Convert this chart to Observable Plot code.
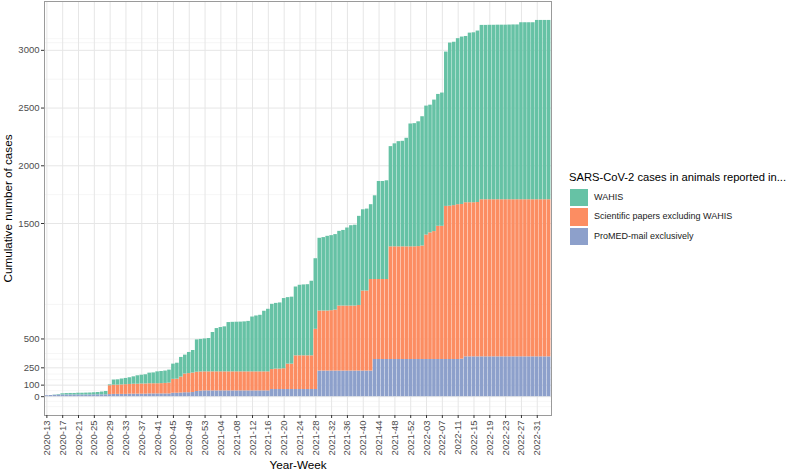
<!DOCTYPE html>
<html>
<head>
<meta charset="utf-8">
<script src="https://cdn.jsdelivr.net/npm/d3@7"></script>
<script src="https://cdn.jsdelivr.net/npm/@observablehq/plot@0.6"></script>
<style>
  html, body { margin: 0; padding: 0; background: #fff; }
  #chart { position: relative; width: 788px; height: 472px; font-family: "Liberation Sans", Arial, sans-serif; }
  #chart svg { position: absolute; left: 0; top: 0; }
  .lg { position: absolute; white-space: nowrap; }
</style>
</head>
<body>
<div id="chart"></div>
<script>
// Year-week categories (2020-13 .. 2022-34)
const yearWeekRanges = [[2020, 13, 53], [2021, 1, 53], [2022, 1, 34]];

// x tick labels (every 4th week)
const xTicks = ["2020-13","2020-17","2020-21","2020-25","2020-29","2020-33","2020-37","2020-41","2020-45","2020-49","2020-53",
  "2021-04","2021-08","2021-12","2021-16","2021-20","2021-24","2021-28","2021-32","2021-36","2021-40","2021-44","2021-48","2021-52",
  "2022-03","2022-07","2022-11","2022-15","2022-19","2022-23","2022-27","2022-31"];

// y ticks and minor grid values
const yTicks = [0, 100, 250, 500, 1500, 2000, 2500, 3000];
const yMinorGrid = [-86, -40, 52, 147, 196, 325, 374, 799, 1750, 2250, 2750, 3066, 3101];

// series (bottom to top in the stack)
const seriesNames = ["ProMED-mail exclusively", "Scientific papers excluding WAHIS", "WAHIS"];
const seriesColors = ["#8DA0CB", "#FC8D62", "#66C2A5"];

// cumulative cases per week, per source
const promed = [
  8,10,12,14,15,15,15,15,15,15,15,15,16,16,16,16,
  18,20,20,20,20,22,22,22,22,22,24,24,24,24,24,24,
  30,30,32,34,34,36,45,48,50,50,50,50,50,50,50,50,
  50,50,50,50,50,50,50,50,50,62,62,62,62,62,62,62,
  62,62,62,62,62,222,222,222,222,222,222,222,222,222,222,222,
  222,222,222,322,322,322,322,322,322,322,322,322,322,322,322,322,
  322,322,322,322,322,322,322,322,322,325,345,345,345,345,345,345,
  345,345,345,345,345,345,345,345,345,345,345,345,345,345,345,345];
const papers = [
  0,0,0,0,0,0,0,0,0,0,0,0,0,0,0,0,
  77,80,80,82,84,84,86,86,88,88,88,88,88,89,91,94,
  120,122,138,162,166,169,167,166,165,165,165,165,165,165,165,165,
  165,165,165,165,165,165,165,165,165,173,177,177,180,220,220,292,
  292,292,292,292,522,520,520,520,523,528,563,563,563,563,563,568,
  693,693,793,693,693,693,693,976,976,976,976,976,976,976,978,983,
  1078,1097,1108,1154,1154,1326,1328,1333,1341,1340,1335,1335,1335,1337,1361,1361,
  1361,1361,1361,1361,1361,1361,1361,1361,1361,1361,1361,1361,1361,1361,1361,1361];
const wahis = [
  0,0,2,4,10,12,13,13,15,15,16,17,18,20,24,29,
  7,44,46,51,54,58,64,73,76,80,92,94,103,105,107,112,
  132,138,170,164,183,195,280,282,285,289,341,375,384,390,427,429,
  430,431,433,437,475,484,490,525,542,565,569,573,608,576,580,596,
  611,614,616,646,611,630,636,647,650,654,647,655,676,696,700,772,
  704,710,648,725,849,849,855,868,892,911,914,940,1064,1067,1081,1120,
  1117,1106,1139,1142,1154,1337,1413,1415,1438,1450,1440,1469,1472,1485,1510,1510,
  1511,1511,1512,1512,1512,1513,1514,1514,1533,1533,1533,1533,1553,1553,1553,1553];

const weeks = [];
for (const [yr, w0, w1] of yearWeekRanges) for (let w = w0; w <= w1; w++) weeks.push(`${yr}-${String(w).padStart(2, "0")}`);

const seriesValues = [promed, papers, wahis];
const rows = [];
weeks.forEach((wk, i) => seriesNames.forEach((s, k) => rows.push({week: wk, series: s, cases: seriesValues[k][i]})));

const fontFamily = "Liberation Sans, Arial, sans-serif";
const plot = Plot.plot({
  width: 788,
  height: 472,
  marginLeft: 44,
  marginRight: 237,
  marginTop: 1,
  marginBottom: 57,
  style: {fontFamily, background: "white"},
  x: {type: "band", domain: weeks, paddingInner: 0.1, paddingOuter: 0.15, axis: null},
  y: {domain: [-163, 3423], axis: null},
  color: {domain: seriesNames, range: seriesColors},
  marks: [
    Plot.gridY(yMinorGrid, {stroke: "#f0f0f0", strokeOpacity: 1, strokeWidth: 0.6}),
    Plot.gridY(yTicks, {stroke: "#e6e6e6", strokeOpacity: 1, strokeWidth: 1}),
    Plot.gridX(xTicks, {stroke: "#e6e6e6", strokeOpacity: 1, strokeWidth: 1}),
    Plot.barY(rows, {x: "week", y: "cases", fill: "series", order: seriesNames}),
    Plot.frame({stroke: "#9a9a9a"}),
    Plot.axisY(yTicks, {tickSize: 3, tickPadding: 2, tickFormat: d => String(d), fontSize: 9.5, stroke: "#333", fill: "#4d4d4d", label: null}),
    Plot.axisY({ticks: [], label: "Cumulative number of cases", labelAnchor: "center", labelArrow: "none", labelOffset: 41, fontSize: 11.7, fill: "#000"}),
    Plot.axisX(xTicks, {tickSize: 3, tickPadding: 2, tickRotate: -90, fontSize: 9.5, stroke: "#333", fill: "#4d4d4d", label: null}),
    Plot.axisX({ticks: [], label: "Year-Week", labelAnchor: "center", labelArrow: "none", labelOffset: 53, fontSize: 11.7, fill: "#000"})
  ]
});

const chart = document.getElementById("chart");
chart.appendChild(plot);

// Legend (top entry = top of stack)
const legend = d3.select(chart);
legend.append("div").attr("class", "lg")
  .style("left", "569px").style("top", "170px")
  .style("font-size", "11.2px").style("line-height", "14px").style("color", "#000")
  .text("SARS-CoV-2 cases in animals reported in...");
const legendOrder = seriesNames.map((s, k) => ({name: s, color: seriesColors[k]})).reverse();
legendOrder.forEach((d, j) => {
  const top = 188.5 + j * 19.6;
  legend.append("div").attr("class", "lg")
    .style("left", "569.5px").style("top", top + "px")
    .style("width", "18px").style("height", "17.5px").style("background", d.color);
  legend.append("div").attr("class", "lg")
    .style("left", "594px").style("top", (top + 2) + "px")
    .style("font-size", "9px").style("line-height", "13px").style("color", "#1a1a1a")
    .text(d.name);
});
</script>
</body>
</html>
